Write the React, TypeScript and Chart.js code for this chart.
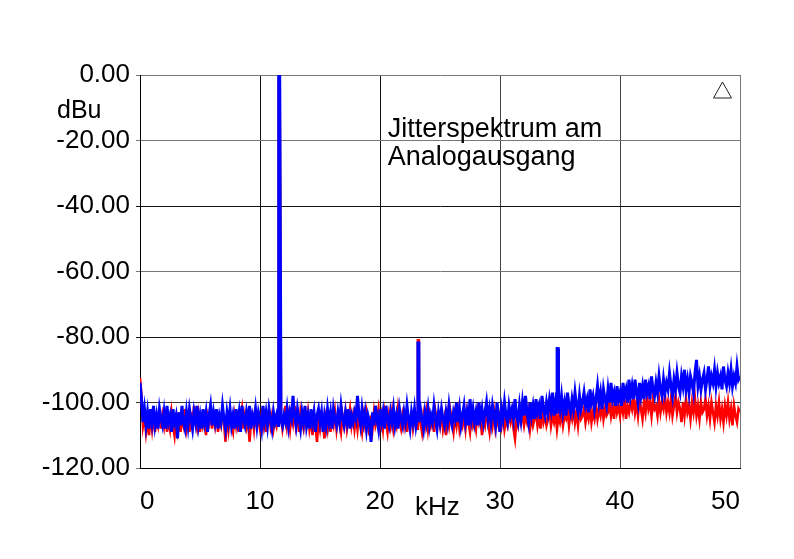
import React, { useEffect, useRef } from "react";
import { Chart, registerables } from "chart.js";

Chart.register(...registerables);

// Frequency grid of the noise floor samples (kHz)
const STEP_KHZ = 0.125;

// Blue trace noise floor (dBu), one value every STEP_KHZ from 0 to 50 kHz (8 per kHz)
const BLUE_NOISE = [
  -94, -99, -106, -102, -107, -103, -108, -102,
  -106, -101, -107, -104, -108, -102, -105, -107,
  -103, -108, -101, -106, -104, -109, -102, -106,
  -104, -111, -103, -107, -101, -106, -108, -103,
  -107, -102, -105, -108, -103, -106, -101, -107,
  -104, -108, -102, -106, -103, -109, -104, -101,
  -107, -103, -106, -102, -108, -104, -106, -101,
  -105, -108, -103, -106, -102, -107, -104, -108,
  -102, -106, -103, -109, -101, -105, -107, -103,
  -106, -101, -108, -104, -106, -102, -107, -103,
  -105, -108, -101, -106, -103, -107, -102, -105,
  -108, -103, -106, -104, -107, -103, -105, -107,
  -104, -106, -102, -107, -103, -105, -98, -104,
  -107, -102, -105, -108, -103, -106, -101, -107,
  -104, -108, -102, -106, -103, -109, -104, -102,
  -106, -103, -109, -104, -107, -102, -106, -103,
  -108, -102, -105, -107, -103, -106, -101, -105,
  -107, -103, -106, -102, -108, -104, -106, -103,
  -105, -98, -104, -107, -102, -106, -103, -108,
  -104, -106, -112, -103, -107, -101, -105, -108,
  -102, -106, -103, -108, -101, -105, -107, -103,
  -106, -102, -107, -104, -108, -102, -105, -107,
  -103, -106, -101, -105, -108, -103, -106, -102,
  -107, -104, -106, -102, -105, -108, -103, -106,
  -102, -107, -104, -106, -101, -105, -108, -103,
  -106, -102, -105, -107, -103, -106, -101, -105,
  -107, -103, -105, -100, -106, -102, -107, -104,
  -101, -106, -103, -107, -99, -105, -102, -106,
  -103, -107, -100, -105, -102, -106, -103, -100,
  -105, -102, -106, -101, -104, -107, -100, -104,
  -109, -102, -105, -100, -104, -106, -101, -104,
  -102, -105, -99, -104, -106, -101, -105, -100,
  -104, -98, -103, -106, -100, -104, -101, -105,
  -99, -103, -101, -105, -98, -102, -104, -100,
  -103, -99, -102, -97, -104, -100, -103, -99,
  -102, -98, -103, -100, -104, -97, -101, -103,
  -99, -102, -97, -101, -103, -98, -102, -100,
  -97, -101, -99, -103, -96, -100, -98, -102,
  -99, -95, -100, -97, -102, -96, -99, -101,
  -96, -100, -94, -99, -97, -101, -95, -99,
  -97, -101, -94, -98, -96, -100, -93, -98,
  -95, -99, -93, -97, -100, -94, -98, -95,
  -99, -93, -97, -95, -99, -92, -96, -98,
  -94, -97, -92, -96, -98, -93, -97, -94,
  -96, -91, -95, -98, -93, -96, -91, -95,
  -97, -92, -95, -90, -96, -93, -97, -92,
  -94, -97, -91, -87, -95, -92, -96, -93,
  -91, -96, -93, -89, -95, -92, -94, -90,
  -95, -91, -94, -92, -96, -89, -93, -95,
  -91, -94, -90, -95, -92, -94, -89, -93,
  -92,
];

// Red trace noise floor (dBu), same frequency grid
const RED_NOISE = [
  -92.5, -98, -107, -104, -109, -105, -110, -104,
  -108, -103, -109, -105, -107, -102, -108, -104,
  -107, -102, -109, -105, -108, -103, -107, -110,
  -104, -108, -103, -109, -105, -107, -102, -108,
  -105, -109, -103, -107, -101, -106, -108, -104,
  -109, -103, -107, -105, -110, -104, -106, -102,
  -108, -104, -107, -103, -109, -105, -107, -103,
  -106, -112, -104, -108, -103, -107, -109, -104,
  -107, -103, -109, -105, -102, -108, -104, -107,
  -103, -112, -106, -104, -108, -103, -107, -105,
  -108, -104, -107, -102, -109, -105, -103, -107,
  -104, -108, -105, -107, -103, -106, -104, -108,
  -105, -101, -107, -104, -108, -103, -106, -101,
  -107, -104, -109, -103, -106, -108, -104, -107,
  -103, -108, -105, -110, -104, -107, -112, -105,
  -108, -104, -107, -111, -105, -108, -103, -109,
  -105, -107, -103, -108, -104, -106, -109, -104,
  -107, -103, -108, -105, -102, -107, -104, -108,
  -104, -108, -103, -106, -109, -104, -107, -103,
  -106, -110, -104, -108, -103, -107, -105, -102,
  -107, -104, -108, -103, -106, -109, -104, -107,
  -103, -108, -105, -107, -102, -106, -108, -104,
  -107, -103, -109, -105, -107, -104, -108, -105,
  -104, -108, -103, -106, -109, -104, -107, -103,
  -108, -104, -107, -105, -109, -103, -106, -104,
  -107, -103, -108, -105, -110, -104, -107, -103,
  -106, -109, -104, -107, -103, -108, -105, -107,
  -104, -108, -103, -106, -109, -104, -107, -105,
  -108, -103, -106, -104, -110, -105, -107, -103,
  -106, -109, -104, -107, -103, -108, -105, -107,
  -104, -107, -103, -108, -105, -107, -104, -106,
  -103, -108, -111, -105, -107, -103, -106, -104,
  -107, -104, -106, -103, -108, -104, -107, -105,
  -103, -107, -104, -108, -102, -106, -104, -107,
  -105, -102, -107, -104, -106, -103, -108, -104,
  -106, -103, -107, -104, -105, -102, -107, -103,
  -105, -101, -106, -103, -107, -102, -105, -104,
  -102, -106, -103, -105, -101, -106, -103, -105,
  -101, -105, -102, -104, -100, -105, -102, -104,
  -103, -100, -104, -101, -105, -99, -103, -101,
  -104, -100, -103, -99, -105, -101, -103, -100,
  -102, -98, -103, -100, -104, -99, -102, -105,
  -100, -103, -98, -102, -100, -104, -99, -102,
  -101, -104, -99, -103, -100, -102, -98, -103,
  -100, -103, -99, -104, -101, -98, -103, -100,
  -102, -106, -100, -104, -99, -103, -101, -105,
  -100, -103, -99, -104, -101, -105, -100, -103,
  -102, -99, -104, -101, -105, -100, -103, -106,
  -101, -104, -100, -105, -102, -106, -101, -104,
  -100, -105, -102, -107, -101, -104, -106, -102,
  -103,
];

// Discrete spectral lines
const BLUE_PEAK_KHZ = [11.6, 23.2, 34.8];
const BLUE_PEAK_DBU = [0, -81.8, -83.5];
const RED_PEAK_KHZ = [11.6, 23.2];
const RED_PEAK_DBU = [-1, -81];

const Y_TICKS = [0, -20, -40, -60, -80, -100, -120];
const X_TICKS = [0, 10, 20, 30, 40, 50];

const TITLE_LINES = ["Jitterspektrum am", "Analogausgang"];
const Y_UNIT = "dBu";
const X_UNIT = "kHz";

function buildSeries(noise: number[], peakF: number[], peakV: number[]) {
  const pts: { x: number; y: number }[] = noise.map((v, i) => ({ x: i * STEP_KHZ, y: v }));
  peakF.forEach((f, i) => {
    pts.push({ x: f - 0.04, y: peakV[i] });
    pts.push({ x: f + 0.04, y: peakV[i] });
  });
  pts.sort((a, b) => a.x - b.x);
  return pts;
}

const FONT = "'Liberation Sans', Arial, sans-serif";

const yGridColor = (v: number) => {
  if (v === -40 || v === -80) return "#111";
  if (v === -100) return "#333";
  return "#777";
};
const xGridColor = (v: number) => {
  if (v === 0) return "#000";
  if (v === 10 || v === 20) return "#111";
  if (v === 50) return "#777";
  return "#444";
};

const overlay = {
  id: "overlay",
  afterDraw(chart: any) {
    const ctx = chart.ctx as CanvasRenderingContext2D;
    const xs = chart.scales.x;
    const ys = chart.scales.y;
    ctx.save();
    ctx.fillStyle = "#000";
    ctx.textBaseline = "alphabetic";
    ctx.textAlign = "left";
    ctx.font = `27px ${FONT}`;
    ctx.fillText(TITLE_LINES[0], xs.getPixelForValue(20.65), ys.getPixelForValue(-18.8));
    ctx.fillText(TITLE_LINES[1], xs.getPixelForValue(20.65), ys.getPixelForValue(-27.4));
    ctx.font = `25px ${FONT}`;
    ctx.fillText(Y_UNIT, 57, 118);
    ctx.font = `26px ${FONT}`;
    ctx.fillText(X_UNIT, 415, 515);
    // triangle marker
    ctx.strokeStyle = "#222";
    ctx.lineWidth = 1;
    ctx.beginPath();
    ctx.moveTo(722.5, 82);
    ctx.lineTo(713.5, 98);
    ctx.lineTo(731.5, 98);
    ctx.closePath();
    ctx.stroke();
    ctx.restore();
  },
};

export default function App() {
  const ref = useRef<HTMLCanvasElement | null>(null);
  useEffect(() => {
    if (!ref.current) return;
    const chart = new Chart(ref.current, {
      type: "line",
      data: {
        datasets: [
          {
            label: "blue",
            data: buildSeries(BLUE_NOISE, BLUE_PEAK_KHZ, BLUE_PEAK_DBU),
            borderColor: "rgb(0,0,255)",
            borderWidth: 3,
            pointRadius: 0,
            tension: 0,
            order: 0,
          },
          {
            label: "red",
            data: buildSeries(RED_NOISE, RED_PEAK_KHZ, RED_PEAK_DBU),
            borderColor: "rgb(255,0,0)",
            borderWidth: 2.6,
            pointRadius: 0,
            tension: 0,
            order: 1,
          },
        ],
      },
      options: {
        animation: false,
        responsive: false,
        devicePixelRatio: 1,
        layout: { padding: { top: 75, right: 54, left: 0, bottom: 0 } },
        plugins: { legend: { display: false }, tooltip: { enabled: false } },
        scales: {
          x: {
            type: "linear",
            min: 0,
            max: 50,
            afterBuildTicks: (s: any) => {
              s.ticks = X_TICKS.map((v) => ({ value: v }));
            },
            afterFit: (s: any) => {
              s.height = 91;
            },
            grid: {
              color: (c: any) => xGridColor(c.tick?.value),
              lineWidth: 1,
              drawTicks: false,
            },
            border: { display: true, color: "#000" },
            ticks: {
              align: "inner",
              maxRotation: 0,
              autoSkip: false,
              padding: 18,
              color: "#000",
              font: { family: FONT, size: 26 },
              callback: (v: any) => String(v),
            },
          },
          y: {
            type: "linear",
            min: -120,
            max: 0,
            afterBuildTicks: (s: any) => {
              s.ticks = Y_TICKS.map((v) => ({ value: v }));
            },
            afterFit: (s: any) => {
              s.width = 140;
            },
            grid: {
              color: (c: any) => yGridColor(c.tick?.value),
              lineWidth: 1,
              drawTicks: true,
              tickLength: 4,
            },
            border: { display: true, color: "#000" },
            ticks: {
              autoSkip: false,
              padding: 6,
              color: "#000",
              font: { family: FONT, size: 26 },
              callback: (v: any) => Number(v).toFixed(2),
            },
          },
        },
      },
      plugins: [overlay],
    });
    return () => chart.destroy();
  }, []);
  return (
    <div style={{ position: "absolute", left: 0, top: 0, width: 794, height: 559, background: "#fff" }}>
      <canvas ref={ref} width={794} height={559} />
    </div>
  );
}
